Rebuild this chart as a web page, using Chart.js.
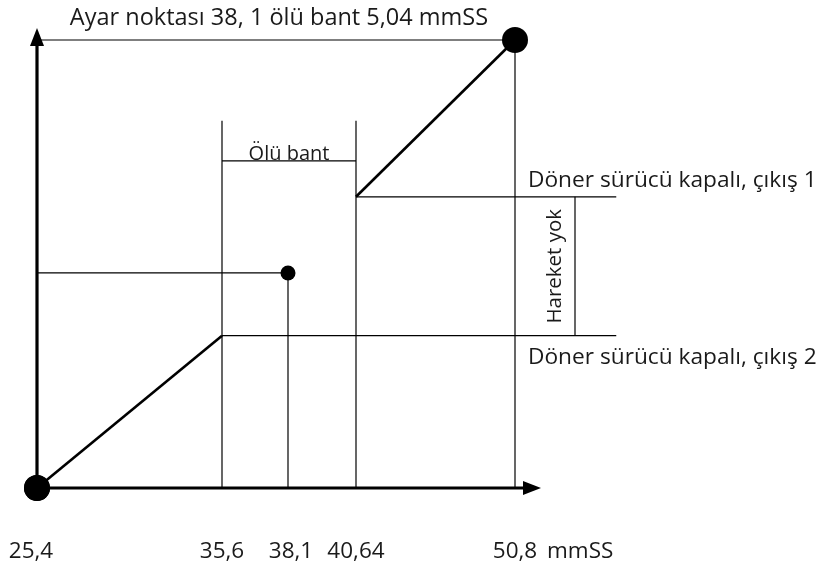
<!DOCTYPE html>
<html>
<head>
<meta charset="utf-8">
<script src="https://cdn.jsdelivr.net/npm/chart.js@4.4.0/dist/chart.umd.min.js"></script>
<style>
  html, body { margin: 0; padding: 0; background: #ffffff; }
  #wrap { width: 826px; height: 567px; position: relative; }
</style>
</head>
<body>
<div id="wrap"><canvas id="c" width="826" height="567"></canvas></div>
<script>
// ---- data (mmSS on x, schematic output level on y) ----
const xTickValues = [25.4, 35.6, 38.1, 40.64, 50.8];
const xTickLabels = ['25,4', '35,6', '38,1', '40,64', '50,8'];
const xUnit = 'mmSS';
const xMin = 25.4, xMax = 56.4;
const lineEndX = 56.2;          // right end of the output level lines
const noMoveX = 54.0;           // x of the "Hareket yok" bracket
const yMin = 0, yMax = 100;
const levelTop = 100;           // full output
const levelOut1 = 65;           // output 1 level
const levelSetpoint = 48;       // setpoint marker level
const levelOut2 = 34;           // output 2 level
const guideTop = 82;            // top of dead band guide lines
const bandLabelLevel = 73;      // dead band bracket level
const setpoint = 38.1, bandLow = 35.6, bandHigh = 40.64, startX = 25.4, endX = 50.8;

const title = 'Ayar noktası 38, 1 ölü bant 5,04 mmSS';
const bandLabel = 'Ölü bant';
const out1Label = 'Döner sürücü kapalı, çıkış 1';
const out2Label = 'Döner sürücü kapalı, çıkış 2';
const noMoveLabel = 'Hareket yok';

// ---- schematic (not-to-scale) x axis: the dead band zone is drawn enlarged ----
const axisBreaks = [xMin, 35.6, 38.1, 40.64, 50.8, xMax];
const axisSegmentShare = [185, 66, 68, 159, 105];

class SchematicScale extends Chart.LinearScale {
  getPixelForValue(value) {
    const total = axisSegmentShare.reduce((a, b) => a + b, 0);
    let acc = 0;
    for (let i = 0; i < axisSegmentShare.length; i++) {
      const a = axisBreaks[i], b = axisBreaks[i + 1];
      if (value <= b || i === axisSegmentShare.length - 1) {
        const f = (value - a) / (b - a);
        return this.getPixelForDecimal((acc + f * axisSegmentShare[i]) / total);
      }
      acc += axisSegmentShare[i];
    }
    return this.getPixelForDecimal(1);
  }
  getValueForPixel(pixel) {
    const total = axisSegmentShare.reduce((a, b) => a + b, 0);
    const d = this.getDecimalForPixel(pixel) * total;
    let acc = 0;
    for (let i = 0; i < axisSegmentShare.length; i++) {
      if (d <= acc + axisSegmentShare[i] || i === axisSegmentShare.length - 1) {
        const f = (d - acc) / axisSegmentShare[i];
        return axisBreaks[i] + f * (axisBreaks[i + 1] - axisBreaks[i]);
      }
      acc += axisSegmentShare[i];
    }
    return xMax;
  }
}
SchematicScale.id = 'schematic';
SchematicScale.defaults = Chart.LinearScale.defaults;
Chart.register(SchematicScale);

const FONT = '"Open Sans", sans-serif';
const INK = '#000000';
const TEXT = '#1a1a1a';

function seg(points, width) {
  return {
    data: points.map(p => ({x: p[0], y: p[1]})),
    showLine: true, borderColor: INK, borderWidth: width,
    pointRadius: 0, pointHoverRadius: 0, fill: false, tension: 0,
    borderCapStyle: 'butt', clip: false
  };
}
function dots(points, r) {
  return {
    data: points.map(p => ({x: p[0], y: p[1]})),
    showLine: false, pointRadius: r, pointHoverRadius: r,
    pointBackgroundColor: INK, pointBorderColor: INK, pointBorderWidth: 0, clip: false
  };
}

const datasets = [
  seg([[startX, levelTop], [endX, levelTop]], 1.2),
  seg([[startX, levelSetpoint], [setpoint, levelSetpoint]], 1.2),
  seg([[setpoint, yMin], [setpoint, levelSetpoint]], 1.2),
  seg([[bandLow, yMin], [bandLow, guideTop]], 1.2),
  seg([[bandHigh, yMin], [bandHigh, guideTop]], 1.2),
  seg([[endX, yMin], [endX, levelTop]], 1.2),
  seg([[bandLow, bandLabelLevel], [bandHigh, bandLabelLevel]], 1.2),
  seg([[bandLow, levelOut2], [lineEndX, levelOut2]], 1.2),
  seg([[bandHigh, levelOut1], [lineEndX, levelOut1]], 1.2),
  seg([[noMoveX, levelOut2], [noMoveX, levelOut1]], 1.2),
  seg([[startX, yMin], [bandLow, levelOut2]], 2.6),
  seg([[bandHigh, levelOut1], [endX, levelTop]], 2.6),
  dots([[startX, yMin], [endX, levelTop]], 13),
  dots([[setpoint, levelSetpoint]], 7.5)
];

const decor = {
  id: 'decor',
  afterDatasetsDraw(chart) {
    const ctx = chart.ctx;
    const xs = chart.scales.x, ys = chart.scales.y;
    const x0 = xs.getPixelForValue(startX), y0 = ys.getPixelForValue(yMin);
    ctx.save();
    // axes with arrow heads
    ctx.strokeStyle = INK; ctx.fillStyle = INK; ctx.lineWidth = 3.2;
    const yTip = ys.getPixelForValue(yMax) - 12;
    const xTip = xs.getPixelForValue(endX) + 26;
    ctx.beginPath(); ctx.moveTo(x0, y0); ctx.lineTo(x0, yTip + 14); ctx.stroke();
    ctx.beginPath(); ctx.moveTo(x0, y0); ctx.lineTo(xTip - 14, y0); ctx.stroke();
    ctx.beginPath(); ctx.moveTo(x0, yTip); ctx.lineTo(x0 - 7, yTip + 18); ctx.lineTo(x0 + 7, yTip + 18); ctx.closePath(); ctx.fill();
    ctx.beginPath(); ctx.moveTo(xTip, y0); ctx.lineTo(xTip - 18, y0 - 7); ctx.lineTo(xTip - 18, y0 + 7); ctx.closePath(); ctx.fill();
    // origin dot on top of the axes
    ctx.beginPath(); ctx.arc(x0, y0, 13, 0, Math.PI * 2); ctx.fill();

    ctx.fillStyle = TEXT;
    ctx.font = '22.5px ' + FONT;
    ctx.textBaseline = 'middle';
    // x tick labels
    ctx.textAlign = 'center';
    xTickValues.forEach((v, i) => {
      const dx = i === 0 ? -6 : (i === 2 ? 3 : 0);
      ctx.fillText(xTickLabels[i], xs.getPixelForValue(v) + dx, y0 + 64);
    });
    ctx.textAlign = 'left';
    ctx.fillText(xUnit, xs.getPixelForValue(endX) + 32, y0 + 64);
    // title
    ctx.textAlign = 'center';
    ctx.font = '23.5px ' + FONT;
    ctx.fillText(title, 279, ys.getPixelForValue(levelTop) - 22);
    // dead band
    ctx.font = '20px ' + FONT;
    ctx.textBaseline = 'alphabetic';
    ctx.fillText(bandLabel, (xs.getPixelForValue(bandLow) + xs.getPixelForValue(bandHigh)) / 2, ys.getPixelForValue(bandLabelLevel) - 1);
    // output labels
    ctx.font = '22.7px ' + FONT;
    ctx.textAlign = 'left';
    ctx.textBaseline = 'middle';
    const lx = xs.getPixelForValue(endX) + 13;
    ctx.fillText(out1Label, lx, ys.getPixelForValue(levelOut1) - 16);
    ctx.fillText(out2Label, lx, ys.getPixelForValue(levelOut2) + 22);
    // no movement label (rotated)
    ctx.save();
    ctx.font = '20.5px ' + FONT;
    ctx.textAlign = 'center';
    ctx.translate(xs.getPixelForValue(noMoveX) - 20, (ys.getPixelForValue(levelOut1) + ys.getPixelForValue(levelOut2)) / 2);
    ctx.rotate(-Math.PI / 2);
    ctx.fillText(noMoveLabel, 0, 0);
    ctx.restore();
    ctx.restore();
  }
};

new Chart(document.getElementById('c'), {
  type: 'scatter',
  data: { datasets },
  options: {
    responsive: false,
    animation: false,
    events: [],
    layout: { padding: { left: 37, right: 206, top: 40, bottom: 79 } },
    plugins: { legend: { display: false }, tooltip: { enabled: false } },
    scales: {
      x: { type: 'schematic', min: xMin, max: xMax, display: false },
      y: { type: 'linear', min: yMin, max: yMax, display: false }
    }
  },
  plugins: [decor]
});
</script>
</body>
</html>
